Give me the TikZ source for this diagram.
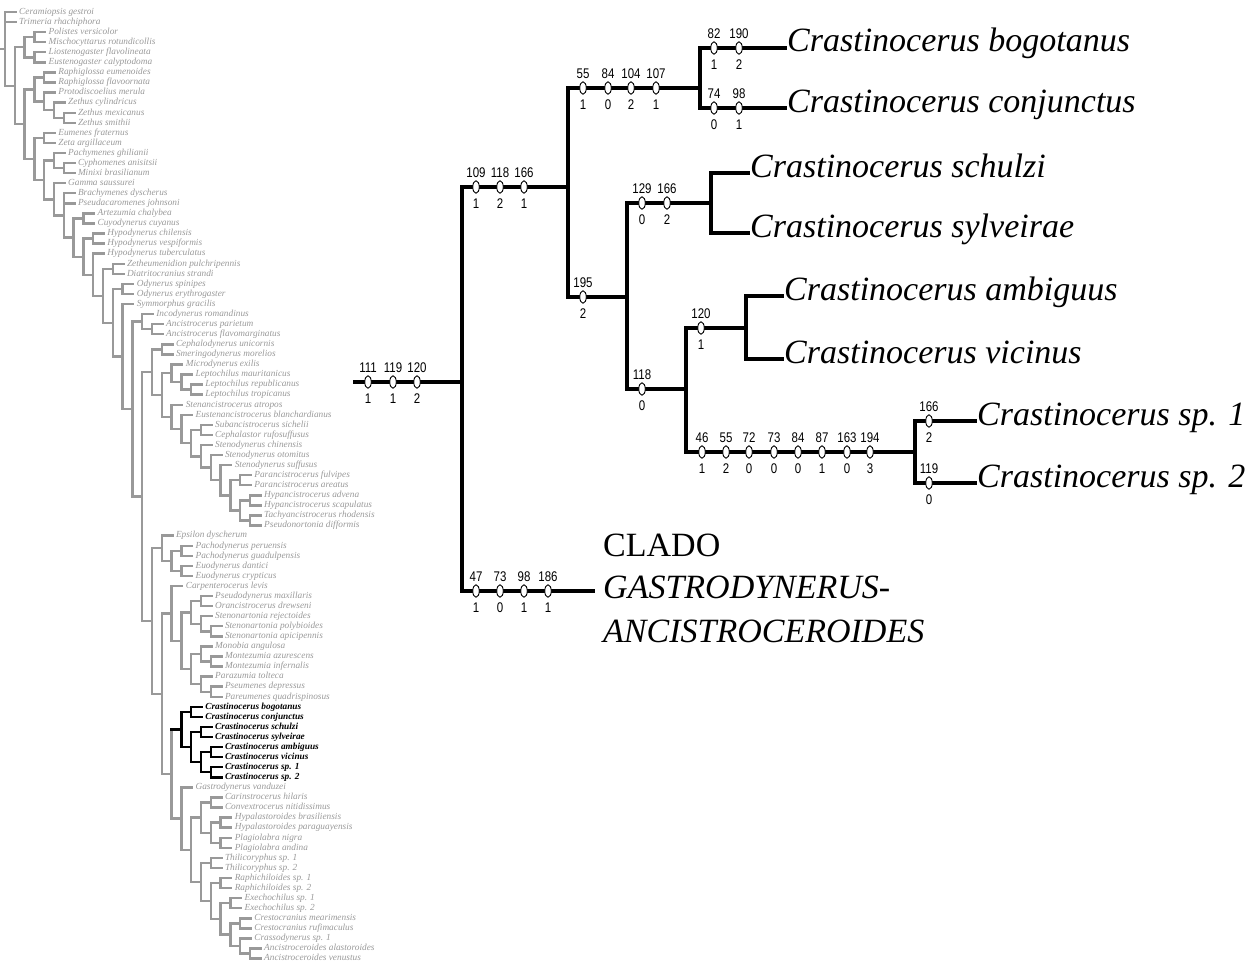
\documentclass[tikz,border=0pt]{standalone}
\usepackage{fontspec}
\setmainfont{Liberation Serif}
\newfontfamily\chrfont[FakeStretch=0.82]{Liberation Sans}
\usetikzlibrary{shapes.geometric}
\definecolor{treegray}{gray}{0.6}
\tikzset{
  gline/.style={draw=treegray, line width=2.4pt, line cap=rect},
  bline/.style={gline, draw=black},
  taxon/.style={anchor=west, inner sep=0pt, text height=6.6pt, text depth=2pt,
    text=treegray, font=\fontsize{9.3}{10}\selectfont\itshape},
  taxbold/.style={taxon, text=black, font=\fontsize{9.3}{10}\selectfont\bfseries\itshape},
  branch/.style={draw=black, line width=3.3pt},
  chr/.style={ellipse, draw=black, line width=0.9pt, fill=white,
    minimum width=6.5pt, minimum height=12.5pt, inner sep=0pt},
  num/.style={font=\chrfont\fontsize{14}{14}\selectfont, inner sep=0pt},
  chrtop/.style={label={[num, label distance=2.5pt]above:#1}},
  chrbot/.style={label={[num, label distance=4.5pt]below:#1}},
  species/.style={anchor=west, inner sep=0pt, text height=15pt, text depth=7pt,
    font=\fontsize{34}{40}\selectfont\itshape},
  clado/.style={anchor=base west, inner sep=0pt, font=\fontsize{34}{40}\selectfont},
}
\begin{document}
\begin{tikzpicture}[x=1pt,y=-1pt]
  \useasboundingbox (0,0) rectangle (1260,966);

  % complete cladogram (left)
  \begin{scope}[y=-10.07pt, yshift=-1.93pt]
    \draw[gline] (0,4.66) -- (5,4.66) (5,1) -- (5,8.32);
    \foreach \d/\y/\ya/\yb in {1/8.32/4.5/12.14, 2/4.5/3.5/5.5, 3/3.5/3/4, 3/5.5/5/6,
      2/12.14/8.69/15.59, 3/8.69/7.5/9.875, 4/7.5/7/8, 4/9.875/9/10.75, 5/10.75/10/11.5,
      6/11.5/11/12, 3/15.59/13.5/17.67, 4/13.5/13/14, 4/17.67/15.75/19.6, 5/15.75/15/16.5,
      6/16.5/16/17, 5/19.6/18/21.2, 6/21.2/19/23.4, 7/23.4/21.5/25.3, 8/21.5/21/22,
      8/25.3/23.5/27.09, 9/23.5/23/24, 9/27.09/25/29.18, 10/29.18/26.5/31.86, 11/26.5/26/27,
      11/31.86/28.5/35.22, 12/28.5/28/29, 12/35.22/30/40.44, 13/40.44/31.75/49.12,
      14/31.75/31/32.5, 15/32.5/32/33, 14/49.12/36.77/61.47, 15/36.77/34.5/39.04,
      16/34.5/34/35, 16/39.04/36.875/41.2, 17/36.875/36/37.75, 18/37.75/37/38.5,
      19/38.5/38/39, 17/41.2/40/42.41, 18/42.41/41/43.81, 19/43.81/42.5/45.125,
      20/42.5/42/43, 20/45.125/44/46.25, 21/46.25/45/47.5, 22/47.5/46/49, 23/49/47.5/50.5,
      24/47.5/47/48, 24/50.5/49.5/51.5, 25/49.5/49/50, 25/51.5/51/52,
      15/61.47/54.25/68.7, 16/54.25/53/55.5, 17/55.5/54.5/56.5, 18/54.5/54/55, 18/56.5/56/57,
      16/68.7/60.72/76.67, 17/60.72/58/63.44, 18/63.44/60.625/66.25, 19/60.625/59.5/61.75,
      20/59.5/59/60, 20/61.75/61/62.5, 21/62.5/62/63, 19/66.25/64.75/67.75, 20/64.75/64/65.5,
      21/65.5/65/66, 20/67.75/67/68.5, 21/68.5/68/69,
      17/76.67/72.25/81.1, 18/81.1/78/84.2, 19/84.2/81/87.39, 20/81/79.5/82.5,
      21/79.5/79/80, 21/82.5/81.5/83.5, 22/81.5/81/82, 22/83.5/83/84, 20/87.39/85.5/89.28,
      21/85.5/85/86, 21/89.28/87.5/91.06, 22/87.5/87/88, 22/91.06/89.5/92.625,
      23/89.5/89/90, 23/92.625/91.5/93.75, 24/91.5/91/92, 24/93.75/93/94.5, 25/94.5/94/95}
      \draw[gline] ({5+9.8*(\d-1)},\y) -- ({5+9.8*\d},\y) ({5+9.8*\d},\ya) -- ({5+9.8*\d},\yb);
    \foreach \d/\y/\ya/\yb in {18/72.25/70.5/74, 19/70.5/70/71, 19/74/72.5/75.5,
      20/72.5/72/73, 20/75.5/74.5/76.5, 21/74.5/74/75, 21/76.5/76/77}
      \draw[bline] ({5+9.8*(\d-1)},\y) -- ({5+9.8*\d},\y) ({5+9.8*\d},\ya) -- ({5+9.8*\d},\yb);
    % terminal taxa
    \foreach \i/\d/\t in {1/0/Ceramiopsis gestroi, 2/0/Trimeria rhachiphora,
      3/3/Polistes versicolor, 4/3/Mischocyttarus rotundicollis,
      5/3/Liostenogaster flavolineata, 6/3/Eustenogaster calyptodoma,
      7/4/Raphiglossa eumenoides, 8/4/Raphiglossa flavoornata, 9/4/Protodiscoelius merula,
      10/5/Zethus cylindricus, 11/6/Zethus mexicanus, 12/6/Zethus smithii,
      13/4/Eumenes fraternus, 14/4/Zeta argillaceum, 15/5/Pachymenes ghilianii,
      16/6/Cyphomenes anisitsii, 17/6/Minixi brasilianum, 18/5/Gamma saussurei,
      19/6/Brachymenes dyscherus, 20/6/Pseudacaromenes johnsoni, 21/8/Artezumia chalybea,
      22/8/Cuyodynerus cuyanus, 23/9/Hypodynerus chilensis, 24/9/Hypodynerus vespiformis,
      25/9/Hypodynerus tuberculatus, 26/11/Zetheumenidion pulchripennis,
      27/11/Diatritocranius strandi, 28/12/Odynerus spinipes, 29/12/Odynerus erythrogaster,
      30/12/Symmorphus gracilis, 31/14/Incodynerus romandinus, 32/15/Ancistrocerus parietum,
      33/15/Ancistrocerus flavomarginatus, 34/16/Cephalodynerus unicornis,
      35/16/Smeringodynerus morelios, 36/17/Microdynerus exilis,
      37/18/Leptochilus mauritanicus, 38/19/Leptochilus republicanus,
      39/19/Leptochilus tropicanus, 40/17/Stenancistrocerus atropos,
      41/18/Eustenancistrocerus blanchardianus, 42/20/Subancistrocerus sichelii,
      43/20/Cephalastor rufosuffusus, 44/20/Stenodynerus chinensis,
      45/21/Stenodynerus otomitus, 46/22/Stenodynerus suffusus,
      47/24/Parancistrocerus fulvipes, 48/24/Parancistrocerus areatus,
      49/25/Hypancistrocerus advena, 50/25/Hypancistrocerus scapulatus,
      51/25/Tachyancistrocerus rhodensis, 52/25/Pseudonortonia difformis,
      53/16/Epsilon dyscherum, 54/18/Pachodynerus peruensis, 55/18/Pachodynerus guadulpensis,
      56/18/Euodynerus dantici, 57/18/Euodynerus crypticus, 58/17/Carpenterocerus levis,
      59/20/Pseudodynerus maxillaris, 60/20/Orancistrocerus drewseni,
      61/20/Stenonartonia rejectoides, 62/21/Stenonartonia polybioides,
      63/21/Stenonartonia apicipennis, 64/20/Monobia angulosa, 65/21/Montezumia azurescens,
      66/21/Montezumia infernalis, 67/20/Parazumia tolteca, 68/21/Pseumenes depressus,
      69/21/Pareumenes quadrispinosus, 78/18/Gastrodynerus vanduzei,
      79/21/Carinstrocerus hilaris, 80/21/Convextrocerus nitidissimus,
      81/22/Hypalastoroides brasiliensis, 82/22/Hypalastoroides paraguayensis,
      83/22/Plagiolabra nigra, 84/22/Plagiolabra andina, 85/21/Thilicoryphus sp. 1,
      86/21/Thilicoryphus sp. 2, 87/22/Raphichiloides sp. 1, 88/22/Raphichiloides sp. 2,
      89/23/Exechochilus sp. 1, 90/23/Exechochilus sp. 2, 91/24/Crestocranius mearimensis,
      92/24/Crestocranius rufimaculus, 93/24/Crassodynerus sp. 1,
      94/25/Ancistroceroides alastoroides, 95/25/Ancistroceroides venustus}{
      \node[taxon] (l\i) at ({19+9.8*\d},\i) {\t};
      \draw[gline] ({5+9.8*\d},\i) -- ([xshift=-3.5pt]l\i.west);
    }
    \foreach \i/\d/\t in {70/19/bogotanus, 71/19/conjunctus, 72/20/schulzi,
      73/20/sylveirae, 74/21/ambiguus, 75/21/vicinus, 76/21/sp. 1, 77/21/sp. 2}{
      \node[taxbold] (l\i) at ({19+9.8*\d},\i) {Crastinocerus \t};
      \draw[bline] ({5+9.8*\d},\i) -- ([xshift=-3.5pt]l\i.west);
    }
  \end{scope}

  % Crastinocerus clade (right)
  \coordinate (rstart) at (353,382);
  \coordinate (nroot) at (462,382);
  \coordinate (n1) at (568,187);
  \coordinate (n2) at (700,88);
  \coordinate (n3) at (627,297);
  \coordinate (n4) at (711,203);
  \coordinate (n5) at (686,389);
  \coordinate (n6) at (746,328);
  \coordinate (n7) at (915,452);
  \coordinate (cladoend) at (595,591);
  \node[species] (bog) at (787,48) {Crastinocerus bogotanus};
  \node[species] (conj) at (787,108) {Crastinocerus conjunctus};
  \node[species] (schu) at (750,173) {Crastinocerus schulzi};
  \node[species] (sylv) at (750,233) {Crastinocerus sylveirae};
  \node[species] (ambi) at (784,296) {Crastinocerus ambiguus};
  \node[species] (vici) at (784,359) {Crastinocerus vicinus};
  \node[species] (spone) at (977,421) {Crastinocerus sp. 1};
  \node[species] (sptwo) at (977,483) {Crastinocerus sp. 2};
  \node[clado] (clado) at (603,556) {CLADO};
  \node[clado] (gastro) at (603,598) {\itshape GASTRODYNERUS-};
  \node[clado] (ancis) at (603,642) {\itshape ANCISTROCEROIDES};

  \draw[branch] (rstart) -- (nroot);
  \draw[branch] (nroot) |- (n1);
  \draw[branch] (nroot) |- (cladoend);
  \draw[branch] (n1) |- (n2);
  \draw[branch] (n1) |- (n3);
  \draw[branch] (n2) |- (bog.west);
  \draw[branch] (n2) |- (conj.west);
  \draw[branch] (n3) |- (n4);
  \draw[branch] (n3) |- (n5);
  \draw[branch] (n4) |- (schu.west);
  \draw[branch] (n4) |- (sylv.west);
  \draw[branch] (n5) |- (n6);
  \draw[branch] (n5) |- (n7);
  \draw[branch] (n6) |- (ambi.west);
  \draw[branch] (n6) |- (vici.west);
  \draw[branch] (n7) |- (spone.west);
  \draw[branch] (n7) |- (sptwo.west);

  % characters: number above, state below
  \foreach \x/\c/\s in {368/111/1, 393/119/1, 417/120/2}
    \node[chr, chrtop=\c, chrbot=\s] (a\c) at (\x,382) {};
  \foreach \x/\c/\s in {476/109/1, 500/118/2, 524/166/1}
    \node[chr, chrtop=\c, chrbot=\s] (b\c) at (\x,187) {};
  \foreach \x/\c/\s in {583/55/1, 608/84/0, 631/104/2, 656/107/1}
    \node[chr, chrtop=\c, chrbot=\s] (c\c) at (\x,88) {};
  \foreach \x/\c/\s in {714/82/1, 739/190/2}
    \node[chr, chrtop=\c, chrbot=\s] (d\c) at (\x,48) {};
  \foreach \x/\c/\s in {714/74/0, 739/98/1}
    \node[chr, chrtop=\c, chrbot=\s] (e\c) at (\x,108) {};
  \node[chr, chrtop=195, chrbot=2] (f195) at (583,297) {};
  \foreach \x/\c/\s in {642/129/0, 667/166/2}
    \node[chr, chrtop=\c, chrbot=\s] (g\c) at (\x,203) {};
  \node[chr, chrtop=118, chrbot=0] (h118) at (642,389) {};
  \node[chr, chrtop=120, chrbot=1] (i120) at (701,328) {};
  \foreach \x/\c/\s in {702/46/1, 726/55/2, 749/72/0, 774/73/0, 798/84/0, 822/87/1,
    847/163/0, 870/194/3}
    \node[chr, chrtop=\c, chrbot=\s] (j\c) at (\x,452) {};
  \node[chr, chrtop=166, chrbot=2] (k166) at (929,421) {};
  \node[chr, chrtop=119, chrbot=0] (m119) at (929,483) {};
  \foreach \x/\c/\s in {476/47/1, 500/73/0, 524/98/1, 548/186/1}
    \node[chr, chrtop=\c, chrbot=\s] (o\c) at (\x,591) {};
\end{tikzpicture}
\end{document}
